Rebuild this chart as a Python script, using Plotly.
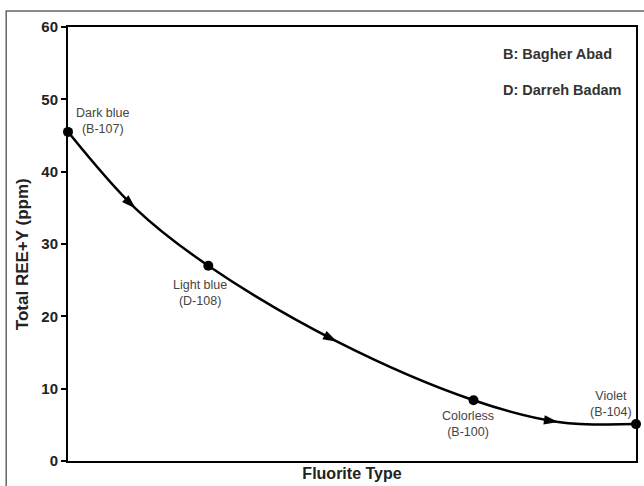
import numpy as np
import plotly.graph_objects as go

# Sample points (position along fluorite sequence, Total REE+Y ppm)
sample_names = ["Dark blue<br>(B-107)", "Light blue<br>(D-108)", "Colorless<br>(B-100)", "Violet<br>(B-104)"]
sample_x = [0.0, 0.247, 0.714, 1.0]
sample_y = [45.5, 27.0, 8.4, 5.1]

# Trend curve
curve_x = [0.0, 0.119, 0.247, 0.474, 0.714, 0.863, 1.0]
curve_y = [45.5, 34.9, 27.0, 16.5, 8.4, 5.4, 5.1]

# Arrow positions on the trend curve (index into curve)
arrow_idx = [1, 3, 5]

# label positions
label_x = [0.061, 0.232, 0.705, 0.956]
label_y = [47.0, 23.2, 5.05, 7.9]

y_ticks = [0, 10, 20, 30, 40, 50, 60]

L, R, T, B = 68, 6, 27, 25
W, H = 644, 486
pw, ph = W - L - R, H - T - B
sx, sy = pw / 1.0, ph / 60.0

fig = go.Figure()
fig.add_trace(go.Scatter(x=curve_x, y=curve_y, mode="lines",
                         line=dict(color="black", width=2.5, shape="spline", smoothing=1.0),
                         cliponaxis=False, hoverinfo="skip"))

ax, ay, ang = [], [], []
for i in arrow_idx:
    dx = (curve_x[i + 1] - curve_x[i - 1]) * sx
    dyd = (curve_y[i - 1] - curve_y[i + 1]) * sy
    ax.append(curve_x[i]); ay.append(curve_y[i])
    ang.append(float(np.degrees(np.arctan2(dx, -dyd))))
fig.add_trace(go.Scatter(x=ax, y=ay, mode="markers",
                         marker=dict(symbol="arrow", size=15, angle=ang, color="black",
                                     line=dict(width=0)),
                         cliponaxis=False, hoverinfo="skip"))

fig.add_trace(go.Scatter(x=sample_x, y=sample_y, mode="markers",
                         marker=dict(size=10, color="black"), cliponaxis=False))

for t, x, y in zip(sample_names, label_x, label_y):
    fig.add_annotation(x=x, y=y, text=t, showarrow=False, xanchor="center", yanchor="middle",
                       font=dict(family="Liberation Sans, Arial", size=12.5, color="#444"))

fig.add_annotation(xref="paper", yref="paper", x=0.763, y=0.938, text="B: Bagher Abad",
                   showarrow=False, xanchor="left", yanchor="middle",
                   font=dict(family="Liberation Sans, Arial", size=14.5, color="#333", weight="bold"))
fig.add_annotation(xref="paper", yref="paper", x=0.763, y=0.855, text="D: Darreh Badam",
                   showarrow=False, xanchor="left", yanchor="middle",
                   font=dict(family="Liberation Sans, Arial", size=14.5, color="#333", weight="bold"))

# y-axis title
fig.add_annotation(xref="paper", yref="paper", x=(22 - L) / pw, y=(H - B - 254) / ph,
                   text="Total REE+Y (ppm)", textangle=-90, showarrow=False,
                   xanchor="center", yanchor="middle",
                   font=dict(family="Liberation Sans, Arial", size=17, color="#222", weight="bold"))

# outer frame
fig.add_shape(type="rect", xref="paper", yref="paper",
              x0=(6 - L) / pw, x1=1.2, y0=-0.3, y1=(H - B - 11) / ph,
              line=dict(color="#666", width=1.5), layer="below")

fig.update_layout(
    width=W, height=H, margin=dict(l=L, r=R, t=T, b=B),
    paper_bgcolor="white", plot_bgcolor="white", showlegend=False,
    font=dict(family="Liberation Sans, Arial", color="#222"),
    xaxis=dict(range=[0, 1], showticklabels=False, ticks="", showgrid=False, zeroline=False,
               showline=True, linecolor="black", linewidth=2, mirror=True,
               title=dict(text="Fluorite Type", font=dict(size=16, color="#222", weight="bold"), standoff=6)),
    yaxis=dict(range=[0, 60], tickvals=y_ticks, ticks="outside", ticklen=5, tickwidth=2,
               tickcolor="black", showgrid=False, zeroline=False,
               showline=True, linecolor="black", linewidth=2, mirror=True,
               tickfont=dict(size=15, color="#222", weight="bold")),
)
fig.write_html("out.html", config={"displayModeBar": False},
               post_script="document.body.style.margin='0';document.body.style.overflow='hidden';")
